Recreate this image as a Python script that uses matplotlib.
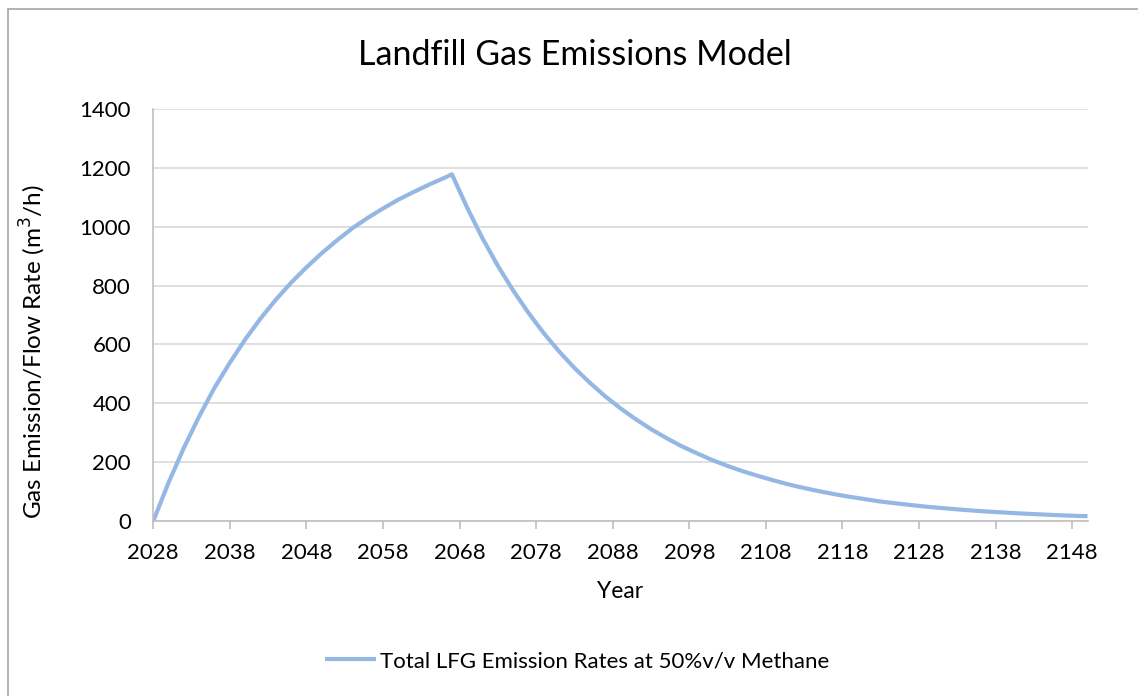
import numpy as np
import matplotlib
matplotlib.use('Agg')
import matplotlib.pyplot as plt
from matplotlib.patches import Rectangle

plt.rcParams['font.family'] = ['Lato', 'DejaVu Sans']

# values (m3/h)
years = [2028, 2030, 2032, 2034, 2036, 2038, 2040, 2042, 2044, 2046, 2048,
         2050, 2052, 2054, 2056, 2058, 2060, 2062, 2064, 2066, 2067,
         2069, 2071, 2073, 2075, 2077, 2079, 2081, 2083, 2085, 2087,
         2089, 2091, 2093, 2095, 2097, 2099, 2101, 2103, 2105, 2107,
         2109, 2111, 2113, 2115, 2117, 2119, 2121, 2123, 2125, 2127,
         2129, 2131, 2133, 2135, 2137, 2139, 2141, 2143, 2145, 2147,
         2149, 2150]
lfg = [0, 131, 249, 356, 453, 538, 617, 688, 752, 810, 862,
       910, 954, 995, 1030, 1062, 1092, 1118, 1143, 1166, 1178,
       1064, 960, 867, 783, 707, 638, 576, 520, 470, 424,
       383, 346, 312, 282, 254, 230, 207, 187, 169, 153,
       138, 124, 112, 101, 91, 82, 74, 66, 60, 54,
       48.5, 44, 39.5, 35.5, 32, 29, 26, 23.5, 21, 19,
       17, 16.5]
xticks = list(range(2028, 2150, 10))
yticks = list(range(0, 1401, 200))

fig = plt.figure(figsize=(11.38, 6.96), dpi=100)
ax = fig.add_axes([153.3 / 1138, 1 - 521 / 696, (1087.5 - 153.3) / 1138, (521 - 109) / 696])

line, = ax.plot(years, lfg, color='#94B8E3', lw=3, solid_joinstyle='round',
                solid_capstyle='butt', label='Total LFG Emission Rates at 50%v/v Methane')

ax.set_xlim(2028, 2150)
ax.set_ylim(0, 1400)
ax.set_xticks(xticks)
ax.set_yticks(yticks)
ax.grid(axis='y', color='#d9d9d9', lw=1.2)
ax.set_axisbelow(True)
for s in ['top', 'right']:
    ax.spines[s].set_visible(False)
for s in ['left', 'bottom']:
    ax.spines[s].set_color('#bfbfbf')
    ax.spines[s].set_linewidth(1.2)
ax.tick_params(axis='x', colors='#bfbfbf', length=6, width=1.2, labelcolor='black',
               labelsize=16, pad=10)
ax.tick_params(axis='y', length=0, labelsize=16, pad=16)

fig.text(575 / 1138, 1 - 55 / 696, 'Landfill Gas Emissions Model', ha='center', va='center', fontsize=24.5)
fig.text(620 / 1138, 1 - 592 / 696, 'Year', ha='center', va='center', fontsize=16.5)
fig.text(33 / 1138, 1 - 352 / 696, 'Gas Emission/Flow Rate (m$^3$/h)', ha='center', va='center',
         rotation=90, fontsize=17.5)

fig.legend(handles=[line], loc='center', bbox_to_anchor=(577 / 1138, 1 - 661 / 696),
           frameon=False, fontsize=16, handlelength=2.3, handletextpad=0.2)

fig.patches.append(Rectangle((8 / 1138, -0.1), 1.2, 1 - 9 / 696 + 0.1, transform=fig.transFigure,
                             fill=False, edgecolor='#a6a6a6', lw=1.2))

fig.savefig('out.png', dpi=100)
